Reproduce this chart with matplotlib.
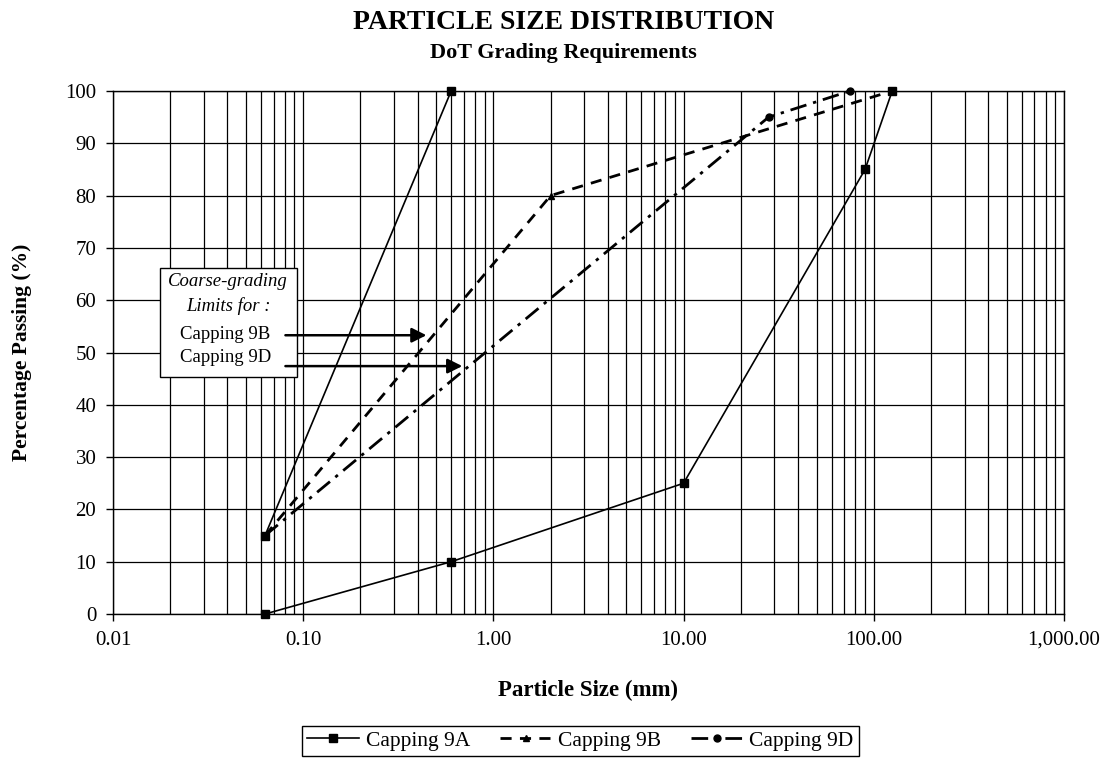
import numpy as np
import matplotlib
matplotlib.use("Agg")
import matplotlib.pyplot as plt
from matplotlib.patches import Rectangle
from matplotlib.ticker import FixedLocator, LogLocator, NullFormatter

plt.rcParams["font.family"] = ["Liberation Serif", "DejaVu Serif"]

# 데이터
size_9a_fine = [0.063, 0.6]
pass_9a_fine = [15, 100]
size_9a_coarse = [0.063, 0.6, 10, 90, 125]
pass_9a_coarse = [0, 10, 25, 85, 100]

size_9b = [0.063, 2, 125]
pass_9b = [15, 80, 100]

size_9d = [0.063, 28, 75]
pass_9d = [15, 95, 100]

xticks = [0.01, 0.1, 1, 10, 100, 1000]
xticklabels = ["0.01", "0.10", "1.00", "10.00", "100.00", "1,000.00"]
yticks = list(range(0, 101, 10))

fig = plt.figure(figsize=(11.12, 7.62), dpi=100)
ax = fig.add_axes([0.1016, 0.1942, 0.8552, 0.6864])

ax.set_xscale("log")
ax.set_xlim(0.01, 1000)
ax.set_ylim(0, 100)

ax.xaxis.set_major_locator(FixedLocator(xticks))
ax.xaxis.set_minor_locator(LogLocator(base=10, subs=np.arange(2, 10)))
ax.xaxis.set_minor_formatter(NullFormatter())
ax.set_xticklabels(xticklabels)
ax.set_yticks(yticks)

ax.tick_params(axis="both", which="major", direction="out", length=5, width=1,
               pad=7, labelsize=15, colors="black")
ax.tick_params(axis="x", which="minor", length=0)

ax.grid(True, which="major", color="black", linewidth=0.9)
ax.grid(True, which="minor", axis="x", color="black", linewidth=0.9)
ax.set_axisbelow(True)
for sp in ax.spines.values():
    sp.set_linewidth(1)
    sp.set_color("black")

# 선 그리기
ax.plot(size_9a_coarse, pass_9a_coarse, color="black", lw=1.2, marker="s", ms=6,
        label="Capping 9A", zorder=5, clip_on=False)
ax.plot(size_9a_fine, pass_9a_fine, color="black", lw=1.2, marker="s", ms=6, zorder=5,
        clip_on=False)
ax.plot(size_9b, pass_9b, color="black", lw=2, linestyle=(0, (4, 3)), marker="^", ms=5,
        label="Capping 9B", zorder=4, clip_on=False)
ax.plot(size_9d, pass_9d, color="black", lw=2, linestyle=(0, (6, 2.5, 1.2, 2.5)),
        marker="o", ms=5, label="Capping 9D", zorder=4, clip_on=False)

# 설명 상자
ax.add_patch(Rectangle((0.0494, 0.4532), 0.1441, 0.2084, transform=ax.transAxes,
                       facecolor="white", edgecolor="black", lw=1, zorder=6))
ax.text(0.121, 0.636, "Coarse-grading", transform=ax.transAxes, ha="center", va="center",
        style="italic", fontsize=13.5, zorder=7)
ax.text(0.121, 0.588, "Limits for :", transform=ax.transAxes, ha="center", va="center",
        style="italic", fontsize=13.5, zorder=7)
ax.text(0.118, 0.535, "Capping 9B", transform=ax.transAxes, ha="center", va="center",
        fontsize=13.5, zorder=7)
ax.text(0.118, 0.490, "Capping 9D", transform=ax.transAxes, ha="center", va="center",
        fontsize=13.5, zorder=7)
ax.annotate("", xy=(0.46, 53.3), xytext=(0.078, 53.3),
            arrowprops=dict(arrowstyle="-|>", color="black", lw=1.8, mutation_scale=22),
            zorder=8)
ax.annotate("", xy=(0.71, 47.4), xytext=(0.078, 47.4),
            arrowprops=dict(arrowstyle="-|>", color="black", lw=1.8, mutation_scale=22),
            zorder=8)

# 제목, 축 이름
fig.text(0.507, 0.970, "PARTICLE SIZE DISTRIBUTION", ha="center", va="center",
         fontsize=20, fontweight="bold")
fig.text(0.507, 0.930, "DoT Grading Requirements", ha="center", va="center",
         fontsize=16, fontweight="bold")
ax.set_xlabel("Particle Size (mm)", fontsize=16.5, fontweight="bold", labelpad=22)
ax.set_ylabel("Percentage Passing (%)", fontsize=15.5, fontweight="bold", labelpad=24)

leg = fig.legend(loc="center", bbox_to_anchor=(0.522, 0.0276), ncol=3, fontsize=15.5,
                 frameon=True, fancybox=False, edgecolor="black", framealpha=1,
                 handlelength=2.4, handletextpad=0.3, columnspacing=1.4,
                 borderpad=0.25)
leg.get_frame().set_linewidth(1)

fig.savefig("out.png", dpi=100)
